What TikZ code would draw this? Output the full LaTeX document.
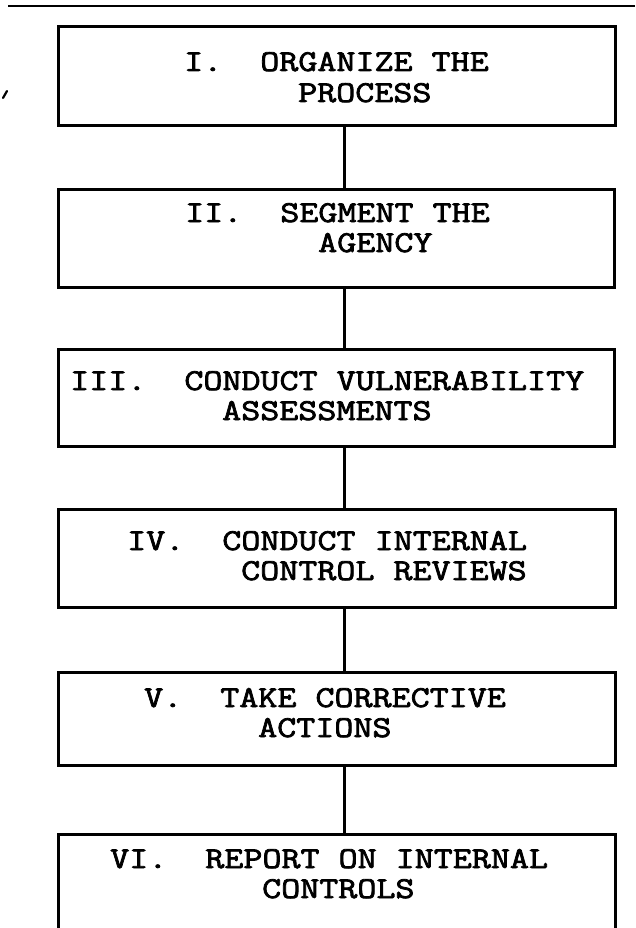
\documentclass[tikz,border=0pt]{standalone}
\usepackage{fontspec}
\newfontfamily\tw{Latin Modern Mono}[FakeStretch=1.22,FakeBold=2.5]
\begin{document}
\begin{tikzpicture}[x=1pt,y=-1pt,
  box/.style={draw, line width=2.8pt, rectangle, inner sep=0pt, anchor=north west},
  lbl/.style={anchor=base west, inner sep=0pt, font=\tw\fontsize{30.3}{30.3}\selectfont},
  link/.style={line width=3pt}]
\useasboundingbox (0,0) rectangle (635,928);
% top rule and stray mark
\draw[line width=2.8pt] (8,6) -- (635,6);
\draw[line width=2.2pt, line cap=round] (7,91) -- (3,98);
% boxes
\node[box, minimum width=557pt, minimum height=99pt] (b1) at (57,25) {};
\node[box, minimum width=556pt, minimum height=98pt] (b2) at (57,188) {};
\node[box, minimum width=556pt, minimum height=97pt] (b3) at (57,348) {};
\node[box, minimum width=557pt, minimum height=98pt] (b4) at (57,508) {};
\node[box, minimum width=557pt, minimum height=93pt] (b5) at (57,671) {};
\node[box, minimum width=557pt, minimum height=95pt] (b6) at (57,833) {};
% labels
\node[lbl] (t1a) at (184,71) {I.\ \ ORGANIZE THE};
\node[lbl] (t1b) at (298,102) {PROCESS};
\node[lbl] (t2a) at (185,222) {II.\ \ SEGMENT THE};
\node[lbl] (t2b) at (318,252) {AGENCY};
\node[lbl] (t3a) at (70,390) {III.\ \ CONDUCT VULNERABILITY};
\node[lbl] (t3b) at (222,420) {ASSESSMENTS};
\node[lbl] (t4a) at (127,550) {IV.\ \ CONDUCT INTERNAL};
\node[lbl] (t4b) at (241,580) {CONTROL REVIEWS};
\node[lbl] (t5a) at (144,707) {V.\ \ TAKE CORRECTIVE};
\node[lbl] (t5b) at (258,737) {ACTIONS};
\node[lbl] (t6a) at (110,868) {VI.\ \ REPORT ON INTERNAL};
\node[lbl] (t6b) at (262,898) {CONTROLS};
% connectors
\coordinate (axis) at (344,0);
\draw[link] (axis |- b1.south) -- (axis |- b2.north);
\draw[link] (axis |- b2.south) -- (axis |- b3.north);
\draw[link] (axis |- b3.south) -- (axis |- b4.north);
\draw[link] (axis |- b4.south) -- (axis |- b5.north);
\draw[link] (axis |- b5.south) -- (axis |- b6.north);
\end{tikzpicture}
\end{document}
